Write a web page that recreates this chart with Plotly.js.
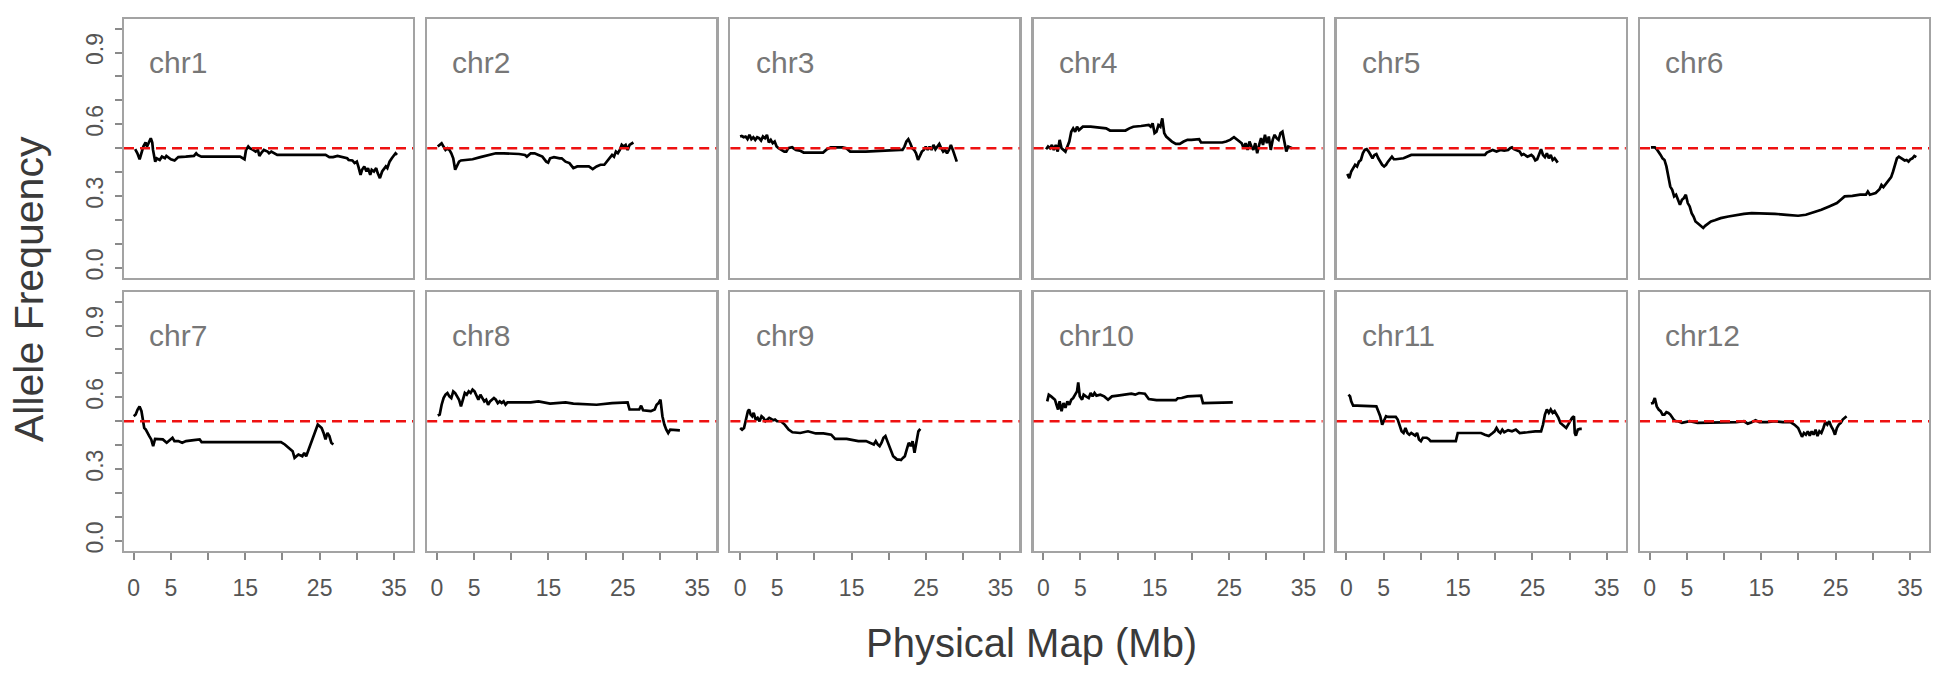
<!DOCTYPE html>
<html><head><meta charset="utf-8">
<script src="https://cdn.plot.ly/plotly-3.0.1.min.js"></script>
<style>html,body{margin:0;padding:0;background:#fff;}#chart{width:1939px;height:677px;}</style>
</head><body><div id="chart"></div>
<script>
// ---------------- DATA ----------------
const chromosomes = ['chr1','chr2','chr3','chr4','chr5','chr6','chr7','chr8','chr9','chr10','chr11','chr12'];

const chr1X = [0.2,0.5,0.8,1.1,1.3,1.6,1.8,2.1,2.3,2.5,2.6,2.9,3.1,3.5,3.8,4.2,4.4,5.0,5.5,6.0,6.5,7.0,8.1,8.4,8.6,9.1,11.7,14.3,14.9,15.1,15.4,15.6,15.9,16.4,16.7,16.9,17.2,17.5,18.0,18.2,18.5,19.0,19.3,22.2,25.8,26.3,26.8,27.4,27.9,28.7,28.9,29.4,29.7,30.0,30.2,30.5,30.7,31.0,31.3,31.5,31.8,32.0,32.3,32.6,32.8,33.1,33.4,33.6,33.9,34.1,34.4,34.7,34.9,35.2,35.4];
const chr1Y = [0.496,0.479,0.454,0.493,0.507,0.524,0.507,0.528,0.542,0.524,0.493,0.444,0.458,0.451,0.465,0.458,0.468,0.454,0.449,0.463,0.465,0.465,0.468,0.479,0.472,0.465,0.465,0.465,0.454,0.493,0.507,0.500,0.496,0.486,0.493,0.468,0.482,0.493,0.486,0.479,0.486,0.479,0.472,0.472,0.472,0.463,0.463,0.468,0.463,0.458,0.451,0.449,0.438,0.444,0.424,0.389,0.410,0.424,0.403,0.417,0.389,0.410,0.403,0.417,0.396,0.375,0.403,0.410,0.424,0.417,0.444,0.458,0.465,0.479,0.472];

const chr2X = [0.12,0.38,0.64,0.90,1.16,1.42,1.68,1.94,2.2,2.46,2.72,2.98,3.24,3.76,4.8,5.85,6.89,7.93,8.97,10.01,11.05,11.84,12.1,12.62,13.14,13.66,14.18,14.7,14.96,15.22,15.74,16.52,16.78,17.3,17.82,18.35,18.87,20.43,20.95,21.47,21.99,22.51,23.03,23.29,23.55,23.81,24.07,24.33,24.59,24.85,25.11,25.38,25.64,25.9,26.16,26.42];
const chr2Y = [0.507,0.514,0.521,0.507,0.493,0.500,0.493,0.479,0.458,0.410,0.431,0.444,0.449,0.451,0.454,0.463,0.472,0.479,0.479,0.479,0.476,0.472,0.465,0.479,0.479,0.472,0.465,0.444,0.440,0.458,0.463,0.458,0.458,0.444,0.438,0.417,0.424,0.424,0.413,0.424,0.431,0.431,0.451,0.458,0.472,0.465,0.486,0.479,0.493,0.514,0.507,0.514,0.493,0.514,0.521,0.524];

const chr3X = [0.0,0.22,0.48,0.74,1.0,1.26,1.52,1.78,2.04,2.3,2.56,2.82,3.08,3.35,3.61,3.87,4.13,4.39,4.65,4.91,5.17,5.43,5.69,5.95,6.21,6.47,6.99,7.51,8.03,8.55,9.07,11.16,11.68,12.2,13.76,14.28,14.8,16.89,19.49,20.53,21.57,21.83,22.1,22.36,22.62,22.88,23.14,23.4,23.66,23.92,24.18,24.44,24.7,24.96,25.22,25.48,25.74,26.0,26.26,26.52,26.78,27.04,27.3,27.56,27.82,28.08,28.34,28.6,28.86,29.13];
const chr3Y = [0.549,0.551,0.546,0.549,0.538,0.556,0.538,0.546,0.535,0.546,0.542,0.532,0.549,0.542,0.556,0.524,0.535,0.521,0.528,0.507,0.500,0.496,0.493,0.486,0.486,0.500,0.504,0.493,0.490,0.482,0.482,0.482,0.496,0.504,0.504,0.500,0.486,0.486,0.490,0.493,0.493,0.493,0.507,0.528,0.538,0.521,0.500,0.493,0.479,0.451,0.472,0.486,0.493,0.507,0.493,0.507,0.493,0.514,0.496,0.507,0.518,0.500,0.486,0.493,0.479,0.493,0.514,0.493,0.472,0.444];

const chr4X = [0.38,0.64,0.9,1.16,1.42,1.68,1.94,2.2,2.46,2.72,2.98,3.24,3.5,3.76,4.02,4.28,4.54,4.8,5.06,5.32,6.37,7.41,8.45,8.97,10.01,11.05,11.57,12.1,13.14,14.18,14.44,14.7,14.96,15.22,15.48,15.74,16.0,16.26,16.52,16.78,17.3,17.82,18.35,18.87,19.39,19.91,20.43,20.95,21.21,22.51,24.07,24.59,25.11,25.64,26.16,26.68,26.94,27.2,27.46,27.72,27.98,28.24,28.5,28.76,29.02,29.28,29.54,29.8,30.06,30.32,30.58,30.84,31.1,31.37,31.63,31.89,32.15,32.41,32.67,32.93,33.19,33.45];
const chr4Y = [0.496,0.507,0.500,0.514,0.493,0.514,0.486,0.535,0.500,0.493,0.486,0.507,0.528,0.569,0.583,0.569,0.590,0.576,0.583,0.590,0.590,0.588,0.583,0.574,0.574,0.574,0.583,0.590,0.593,0.597,0.590,0.604,0.563,0.569,0.597,0.590,0.625,0.563,0.549,0.542,0.528,0.518,0.518,0.528,0.535,0.535,0.535,0.538,0.524,0.524,0.524,0.528,0.535,0.546,0.535,0.521,0.500,0.521,0.493,0.528,0.507,0.493,0.521,0.479,0.514,0.542,0.514,0.556,0.521,0.549,0.493,0.535,0.556,0.542,0.535,0.563,0.569,0.521,0.486,0.507,0.504,0.500];

const chr5X = [0.12,0.38,0.64,0.9,1.16,1.42,1.68,1.94,2.2,2.46,2.72,2.98,3.24,3.5,3.76,4.02,4.28,4.54,4.8,5.06,5.32,5.58,5.85,6.11,6.37,6.63,7.67,8.71,11.31,13.92,16.52,18.61,18.87,19.13,19.65,20.17,20.69,21.21,21.73,21.99,22.25,22.51,22.77,23.29,23.55,23.81,24.33,24.85,25.11,25.38,25.64,25.9,26.16,26.42,26.68,26.94,27.2,27.46,27.72,27.98,28.24,28.4];
const chr5Y = [0.393,0.375,0.403,0.417,0.431,0.424,0.444,0.451,0.479,0.493,0.496,0.486,0.472,0.458,0.472,0.476,0.458,0.444,0.431,0.424,0.431,0.444,0.454,0.465,0.454,0.454,0.458,0.472,0.472,0.472,0.472,0.472,0.482,0.486,0.493,0.486,0.493,0.490,0.493,0.500,0.504,0.496,0.493,0.486,0.472,0.476,0.465,0.472,0.465,0.449,0.454,0.479,0.496,0.472,0.463,0.479,0.458,0.472,0.451,0.458,0.444,0.440];

const chr6X = [0.17,0.69,0.95,1.21,1.47,1.73,1.99,2.25,2.51,2.77,3.03,3.29,3.55,3.81,4.07,4.34,4.6,4.86,5.12,5.38,5.64,5.9,6.16,6.42,6.68,6.94,7.2,7.46,7.72,7.98,8.24,8.76,9.54,10.58,11.63,12.67,13.71,14.75,16.83,18.4,19.44,19.96,21.0,22.04,23.08,24.13,25.17,25.69,26.21,27.25,28.29,29.07,29.33,29.6,30.38,30.9,31.16,31.42,31.94,32.46,32.72,32.98,33.24,33.5,34.02,34.28,34.54,34.8,35.06,35.32,35.58,35.84];
const chr6Y = [0.504,0.504,0.496,0.486,0.472,0.458,0.451,0.424,0.389,0.340,0.326,0.299,0.306,0.285,0.264,0.285,0.292,0.306,0.271,0.257,0.229,0.215,0.194,0.188,0.181,0.174,0.167,0.176,0.181,0.188,0.194,0.199,0.208,0.215,0.222,0.226,0.229,0.229,0.226,0.222,0.218,0.218,0.222,0.232,0.243,0.257,0.271,0.285,0.299,0.301,0.306,0.306,0.319,0.306,0.313,0.329,0.347,0.338,0.361,0.379,0.403,0.431,0.458,0.465,0.454,0.449,0.451,0.444,0.454,0.458,0.468,0.463];

const chr7X = [0.01,0.27,0.53,0.79,1.05,1.21,1.42,1.63,1.83,2.10,2.36,2.62,2.88,3.4,3.92,4.44,4.96,5.22,5.48,6.0,6.52,7.04,8.08,8.87,9.13,11.73,14.33,16.94,19.80,20.32,20.85,21.37,21.63,22.15,22.67,22.93,23.19,23.45,23.71,23.97,24.23,24.49,24.75,25.01,25.27,25.53,25.79,26.05,26.31,26.57,26.84];
const chr7Y = [0.521,0.528,0.549,0.562,0.542,0.507,0.472,0.465,0.451,0.438,0.424,0.396,0.426,0.426,0.424,0.410,0.424,0.431,0.417,0.417,0.410,0.417,0.421,0.424,0.413,0.413,0.413,0.413,0.413,0.403,0.389,0.375,0.347,0.361,0.354,0.368,0.354,0.375,0.396,0.424,0.438,0.465,0.486,0.479,0.472,0.451,0.424,0.451,0.438,0.410,0.403];

const chr8X = [0.12,0.38,0.64,0.9,1.16,1.42,1.68,1.94,2.2,2.46,2.72,2.98,3.24,3.5,3.76,4.02,4.28,4.54,4.8,5.06,5.32,5.58,5.85,6.11,6.37,6.63,6.89,7.15,7.41,7.67,7.93,8.19,8.45,8.71,8.97,9.23,9.49,10.01,12.62,13.66,14.18,15.22,17.3,18.35,21.47,23.55,25.64,25.9,27.2,27.46,27.72,28.76,29.28,29.54,29.8,30.06,30.32,30.58,30.84,31.1,31.37,31.89,32.67];
const chr8Y = [0.524,0.528,0.569,0.597,0.611,0.618,0.604,0.597,0.625,0.618,0.604,0.590,0.562,0.590,0.618,0.611,0.625,0.618,0.632,0.625,0.604,0.590,0.611,0.597,0.583,0.590,0.569,0.583,0.590,0.597,0.590,0.576,0.583,0.576,0.583,0.569,0.579,0.579,0.579,0.583,0.579,0.574,0.579,0.574,0.569,0.576,0.579,0.549,0.549,0.565,0.546,0.542,0.549,0.569,0.576,0.590,0.521,0.486,0.465,0.451,0.465,0.465,0.462];

const chr9X = [0.01,0.27,0.53,0.79,1.05,1.21,1.42,1.63,1.83,2.1,2.36,2.62,2.88,3.14,3.4,3.66,3.92,4.18,4.44,4.7,4.96,5.48,6.0,6.52,7.04,8.08,9.13,10.17,11.21,12.25,12.77,14.33,15.38,15.9,16.94,17.46,17.98,18.24,18.5,18.76,19.02,19.28,19.54,19.8,20.06,20.32,20.58,20.85,21.11,21.37,21.63,21.89,22.15,22.41,22.67,22.93,23.19,23.45,23.71,23.97,24.23];
const chr9Y = [0.472,0.465,0.472,0.507,0.542,0.549,0.528,0.521,0.535,0.507,0.514,0.500,0.521,0.514,0.500,0.507,0.514,0.510,0.504,0.507,0.500,0.500,0.486,0.465,0.454,0.451,0.458,0.449,0.449,0.444,0.426,0.426,0.421,0.417,0.417,0.410,0.403,0.417,0.403,0.396,0.410,0.431,0.438,0.417,0.396,0.375,0.354,0.347,0.340,0.340,0.338,0.347,0.354,0.382,0.410,0.396,0.417,0.368,0.424,0.458,0.468];

const chr10X = [0.53,0.74,1.05,1.26,1.57,1.78,1.99,2.2,2.46,2.72,2.98,3.24,3.5,3.76,4.02,4.28,4.54,4.7,4.91,5.22,5.43,5.74,6.11,6.37,6.63,6.89,7.15,7.67,8.19,8.71,9.23,10.01,11.05,11.84,12.36,12.88,13.66,14.18,15.22,16.78,17.82,18.08,18.61,19.39,20.43,21.21,21.47,22.51,24.07,25.48];
const chr10Y = [0.583,0.611,0.604,0.597,0.590,0.569,0.549,0.583,0.542,0.576,0.556,0.583,0.569,0.590,0.597,0.611,0.625,0.662,0.604,0.590,0.611,0.604,0.597,0.618,0.604,0.618,0.607,0.611,0.604,0.590,0.604,0.607,0.611,0.615,0.611,0.618,0.615,0.593,0.588,0.588,0.588,0.596,0.597,0.604,0.607,0.607,0.576,0.576,0.576,0.579];

const chr11X = [0.27,0.48,0.64,0.9,1.42,2.46,3.5,4.02,4.28,4.54,4.8,5.06,5.32,5.58,6.11,6.63,6.89,7.15,7.41,7.67,7.93,8.19,8.45,8.71,9.23,9.49,9.75,10.01,10.27,10.79,11.05,11.31,12.88,13.92,14.7,14.96,16.0,17.04,18.09,18.61,19.13,19.65,19.91,20.17,20.43,20.69,20.95,21.21,21.73,22.25,22.77,23.29,23.81,24.33,25.38,26.16,26.42,26.68,26.94,27.2,27.46,27.72,27.98,28.24,28.5,28.76,29.02,29.28,29.54,29.8,30.06,30.32,30.58,30.69,30.84,31.1,31.37,31.63];
const chr11Y = [0.611,0.604,0.583,0.565,0.565,0.565,0.565,0.562,0.542,0.521,0.486,0.507,0.521,0.518,0.518,0.518,0.507,0.486,0.458,0.451,0.472,0.451,0.444,0.451,0.440,0.451,0.424,0.417,0.431,0.431,0.426,0.417,0.417,0.417,0.417,0.451,0.451,0.451,0.451,0.444,0.438,0.451,0.458,0.472,0.458,0.451,0.465,0.454,0.463,0.458,0.465,0.451,0.451,0.454,0.458,0.458,0.486,0.528,0.549,0.535,0.549,0.535,0.542,0.528,0.514,0.493,0.486,0.479,0.472,0.486,0.500,0.514,0.521,0.451,0.440,0.465,0.468,0.468];

const chr12X = [0.17,0.43,0.69,0.95,1.21,1.47,1.73,1.99,2.25,2.51,2.77,3.03,3.29,3.55,3.81,4.34,4.86,5.38,6.42,8.5,9.54,11.63,12.67,13.19,13.71,14.23,14.75,15.79,16.83,17.88,18.92,19.44,19.96,20.22,20.48,20.74,21.0,21.26,21.52,21.78,22.04,22.3,22.56,22.82,23.08,23.35,23.61,23.87,24.13,24.39,24.65,24.91,25.17,25.43,25.69,25.95,26.21,26.47];
const chr12Y = [0.574,0.576,0.597,0.562,0.549,0.542,0.528,0.528,0.538,0.535,0.528,0.514,0.504,0.500,0.500,0.493,0.496,0.500,0.493,0.493,0.493,0.496,0.500,0.490,0.496,0.504,0.496,0.496,0.500,0.496,0.496,0.486,0.472,0.451,0.435,0.451,0.444,0.458,0.440,0.458,0.444,0.465,0.438,0.458,0.451,0.472,0.496,0.486,0.500,0.479,0.465,0.444,0.472,0.486,0.493,0.507,0.514,0.521];

const seriesX = [chr1X,chr2X,chr3X,chr4X,chr5X,chr6X,chr7X,chr8X,chr9X,chr10X,chr11X,chr12X];
const seriesY = [chr1Y,chr2Y,chr3Y,chr4Y,chr5Y,chr6Y,chr7Y,chr8Y,chr9Y,chr10Y,chr11Y,chr12Y];

const xTickVals = [0,5,10,15,20,25,30,35];
const xTickText = ['0','5','','15','','25','','35'];
const yTickVals = [0,0.1,0.2,0.3,0.4,0.5,0.6,0.7,0.8,0.9,1.0];
const yTickText = ['0.0','','','0.3','','','0.6','','','0.9',''];
const thresholdValue = 0.5;
const xTitleText = 'Physical Map (Mb)';
const yTitleText = 'Allele Frequency';

// ---------------- LAYOUT ----------------
const W = 1939, H = 677;
const FONT = 'Liberation Sans, Arial, Helvetica, sans-serif';
const panelW = 289, panelH = 258.5, colPitch = 303.2, firstLeft = 124;
const rowTops = [19, 292];
const boxColor = '#a3a3a3';

const traces = [];
const layout = {
  width: W, height: H,
  margin: {l:0, r:0, t:0, b:0},
  paper_bgcolor: '#ffffff', plot_bgcolor: '#ffffff',
  showlegend: false,
  font: {family: FONT, color: '#555555'},
  shapes: [], annotations: []
};

chromosomes.forEach((name, i) => {
  const n = i + 1;
  const sfx = n === 1 ? '' : String(n);
  const row = i < 6 ? 0 : 1;
  const col = i % 6;
  const left = firstLeft + col * colPitch;
  const top = rowTops[row];
  const isBottom = row === 1;
  const isLeft = col === 0;

  traces.push({
    x: seriesX[i], y: seriesY[i],
    xaxis: 'x' + sfx, yaxis: 'y' + sfx,
    type: 'scatter', mode: 'lines',
    line: {color: '#000000', width: 2.7},
    hoverinfo: 'skip'
  });

  layout['xaxis' + sfx] = {
    domain: [left / W, (left + panelW) / W],
    anchor: 'y' + sfx,
    range: [-1.3, 37.55], autorange: false, fixedrange: true,
    showgrid: false, zeroline: false,
    showline: true, mirror: true, linecolor: boxColor, linewidth: 2.4,
    ticks: isBottom ? 'outside' : '', ticklen: 7, tickwidth: 2, tickcolor: '#8a8a8a',
    tickvals: xTickVals, ticktext: xTickText,
    showticklabels: isBottom,
    ticklabelstandoff: 8,
    tickfont: {family: FONT, size: 23, color: '#555555'}
  };
  layout['yaxis' + sfx] = {
    domain: [1 - (top + panelH) / H, 1 - top / H],
    anchor: 'x' + sfx,
    range: [-0.04, 1.04], autorange: false, fixedrange: true,
    showgrid: false, zeroline: false,
    showline: true, mirror: true, linecolor: boxColor, linewidth: 2.4,
    ticks: isLeft ? 'outside' : '', ticklen: 7, tickwidth: 2, tickcolor: '#8a8a8a',
    tickvals: yTickVals, ticktext: yTickText,
    showticklabels: isLeft,
    tickangle: -90,
    ticklabelstandoff: 2,
    tickfont: {family: FONT, size: 23, color: '#555555'}
  };

  layout.shapes.push({
    type: 'line', xref: 'x' + sfx + ' domain', yref: 'y' + sfx,
    x0: 0, x1: 1, y0: thresholdValue, y1: thresholdValue,
    line: {color: '#ee1111', width: 2.5, dash: '10px,6px'}
  });

  layout.annotations.push({
    text: name, showarrow: false,
    xref: 'x' + sfx + ' domain', yref: 'y' + sfx + ' domain',
    x: 0.08, y: 0.83, xanchor: 'left', yanchor: 'middle',
    font: {family: FONT, size: 30, color: '#777777'}
  });
});

layout.annotations.push({
  text: xTitleText, showarrow: false, xref: 'paper', yref: 'paper',
  x: 1031 / W, y: 1 - 643 / H, xanchor: 'center', yanchor: 'middle',
  font: {family: FONT, size: 40, color: '#3a3a3a'}
});
layout.annotations.push({
  text: yTitleText, showarrow: false, xref: 'paper', yref: 'paper',
  x: 29 / W, y: 1 - 289 / H, xanchor: 'center', yanchor: 'middle', textangle: -90,
  font: {family: FONT, size: 41, color: '#3a3a3a'}
});

Plotly.newPlot('chart', traces, layout, {displayModeBar: false, staticPlot: true});
</script></body></html>
